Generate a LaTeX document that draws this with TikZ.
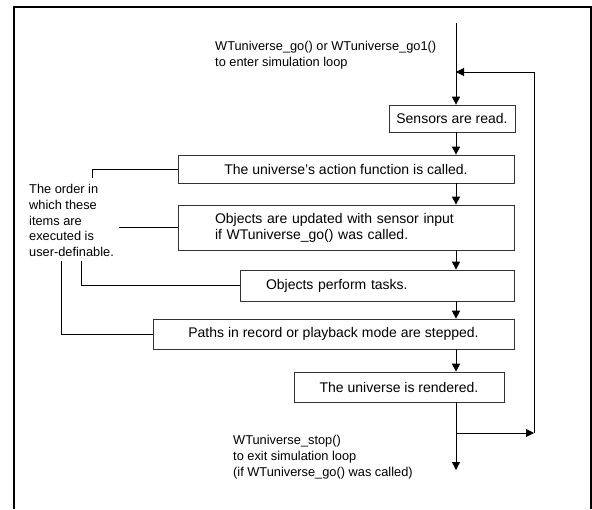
\documentclass[tikz,border=0pt]{standalone}
\usepackage{fontspec}
\setmainfont{Liberation Sans}
\usetikzlibrary{arrows.meta}
\begin{document}
\begin{tikzpicture}[x=1pt,y=-1pt,font=\fontsize{14}{16}\selectfont,
    box/.style={draw=black!80,line width=0.7pt,inner sep=0pt},
    flow/.style={line width=0.9pt,-{Triangle[length=8pt,width=8pt]}},
    link/.style={line width=0.8pt},
    note/.style={align=left,inner sep=0pt,anchor=north west,font=\fontsize{12.8}{15.8}\selectfont}]
    \useasboundingbox (0,0) rectangle (592,509);
    \draw[line width=2pt] (14,509) -- (14,7) -- (591,7) -- (591,509);
    \node[box,minimum width=126,minimum height=27] (sens) at (452,118.5) {Sensors are read.};
    \node[box,minimum width=336,minimum height=28] (act) at (346,169) {The universe's action function is called.};
    \node[box,text width=262,inner xsep=37,minimum height=45,align=left] (obj) at (346,227.5) {Objects are updated with sensor input\\if WTuniverse\_go() was called.};
    \node[box,text width=222,inner xsep=26,minimum height=31,align=left] (perf) at (377,285.5) {Objects perform tasks.};
    \node[box,minimum width=361,minimum height=30] (path) at (333.5,334) {Paths in record or playback mode are stepped.};
    \node[box,minimum width=210,minimum height=30] (rend) at (399,387) {The universe is rendered.};
    \node[note] (enter) at (215,41) {WTuniverse\_go() or WTuniverse\_go1()\\to enter simulation loop};
    \node[note] (order) at (29,184) {The order in\\which these\\items are\\executed is\\user-definable.};
    \node[note] (exit) at (233,435) {WTuniverse\_stop()\\to exit simulation loop\\(if WTuniverse\_go() was called)};
    \coordinate (top) at (456,23);
    \coordinate (back) at (534,72);
    \coordinate (split) at (456,433);
    \coordinate (end) at (456,470);
    \draw[flow] (top) -- (sens.north -| top);
    \foreach \a/\b in {sens/act,act/obj,obj/perf,perf/path,path/rend}
    {
      \draw[flow] (\a.south -| top) -- (\b.north -| top);
    }
    \draw[flow] (rend.south -| top) -- (end);
    \draw[flow] (split) -- (split -| back);
    \draw[flow] (split -| back) -- (back) -- (back -| top);
    \coordinate (b1) at (92,178);
    \coordinate (b2) at (119,0);
    \coordinate (b3) at (81,261);
    \coordinate (b4) at (61,261);
    \draw[link] (act.west) -| (b1);
    \draw[link] (obj.west) -- (obj.west -| b2);
    \draw[link] (b3) |- (perf.west);
    \draw[link] (b4) |- (path.west);
  \end{tikzpicture}
\end{document}
